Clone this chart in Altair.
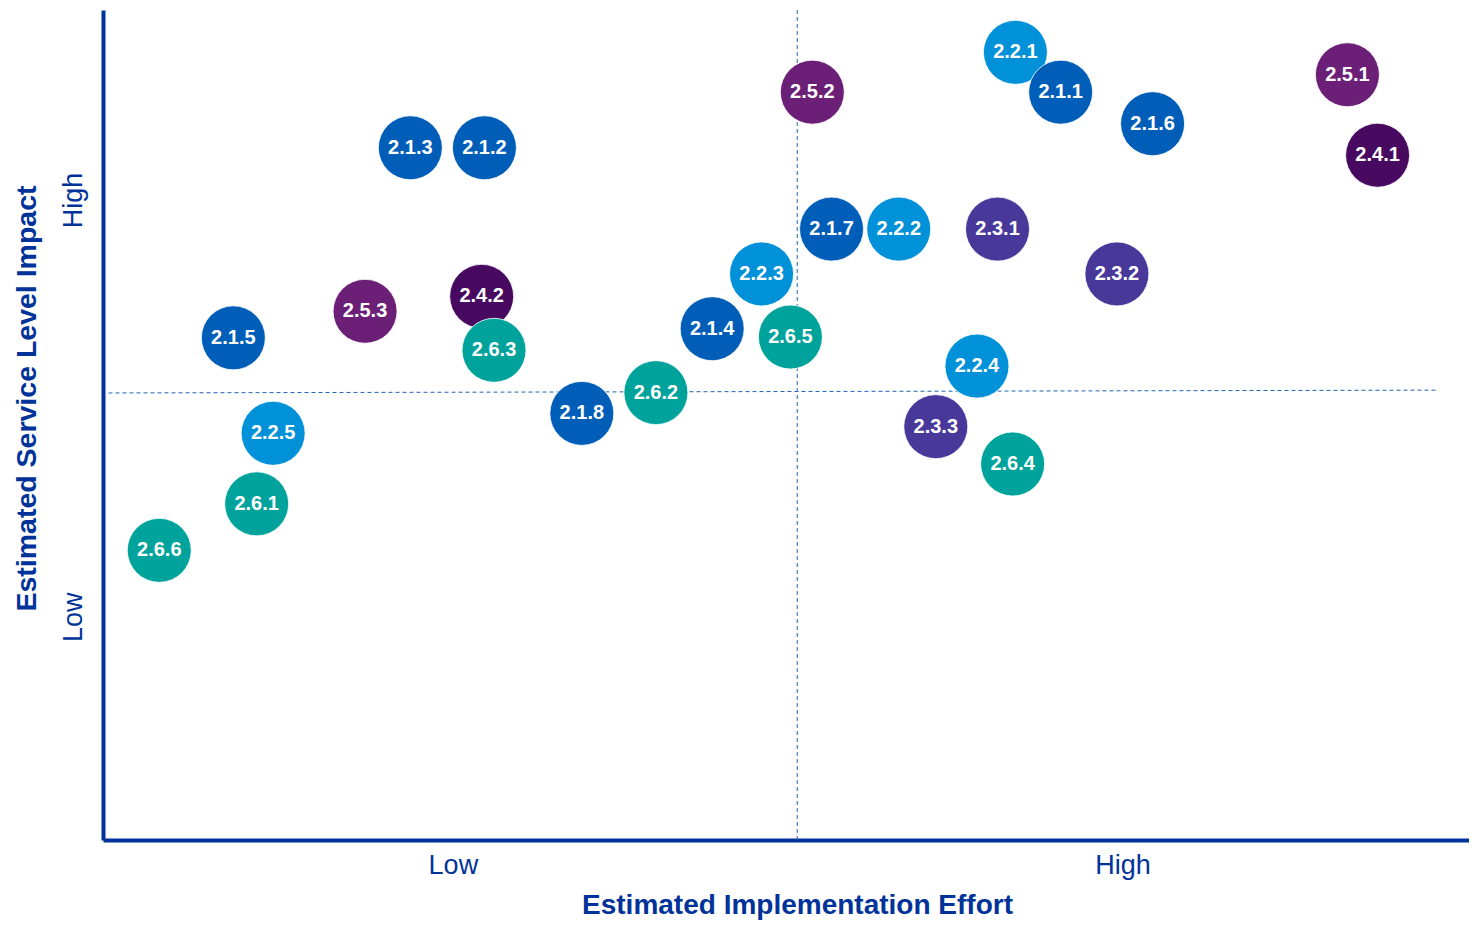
import altair as alt
import pandas as pd

# Initiative labels, effort (x) and impact (y) on a 0-10 scale
labels = ["2.2.1", "2.2.2", "2.2.3", "2.2.4", "2.2.5",
          "2.1.1", "2.1.2", "2.1.3", "2.1.4", "2.1.5", "2.1.6", "2.1.7", "2.1.8",
          "2.3.1", "2.3.2", "2.3.3",
          "2.4.1", "2.4.2",
          "2.5.1", "2.5.2", "2.5.3",
          "2.6.1", "2.6.2", "2.6.3", "2.6.4", "2.6.5", "2.6.6"]
effort = [6.65, 5.80, 4.80, 6.37, 1.24,
          6.98, 2.78, 2.24, 4.44, 0.95, 7.65, 5.31, 3.49,
          6.52, 7.39, 6.07,
          9.29, 2.76,
          9.07, 5.17, 1.91,
          1.12, 4.03, 2.85, 6.63, 5.01, 0.41]
impact = [9.49, 7.36, 6.82, 5.71, 4.90,
          9.01, 8.34, 8.34, 6.16, 6.05, 8.63, 7.36, 5.14,
          7.36, 6.82, 4.98,
          8.25, 6.55,
          9.22, 9.01, 6.37,
          4.05, 5.39, 5.90, 4.53, 6.06, 3.49]

groups = ["2.1", "2.2", "2.3", "2.4", "2.5", "2.6"]
group_colors = ["#005EB8", "#0091D8", "#47389A", "#470A60", "#6B1F77", "#00A39B"]

# Tick positions of the qualitative axis labels
x_ticks = [2.55, 7.43]
y_ticks = [2.69, 7.71]

# Quadrant divider positions
divider_x = 5.06
divider_y_left, divider_y_right = 5.386, 5.42
divider_x_start, divider_x_end = 0.04, 9.72

df = pd.DataFrame({"label": labels, "effort": effort, "impact": impact})
df["group"] = df["label"].str[:3]
df["order"] = range(len(df))

axis_color = "#003399"
font = "Liberation Sans"

PLOT_W = 1366
xscale = alt.Scale(domain=[0, 10 * PLOT_W / 1372], nice=False, zero=False)
yscale = alt.Scale(domain=[0, 10], nice=False, zero=False)

xaxis = alt.Axis(values=x_ticks, labelExpr="datum.value < 5 ? 'Low' : 'High'",
                 domainColor=axis_color, domainWidth=4, ticks=False, grid=False,
                 labelColor=axis_color, labelFont=font, labelFontSize=27,
                 labelPadding=12, title="Estimated Implementation Effort",
                 titleColor=axis_color, titleFont=font, titleFontSize=28,
                 titleFontWeight="bold", titleX=694, titleY=65,
                 titleAlign="center", titleBaseline="middle")
yaxis = alt.Axis(values=y_ticks, labelExpr="datum.value < 5 ? 'Low' : 'High'",
                 domainColor=axis_color, domainWidth=4, ticks=False, grid=False,
                 labelColor=axis_color, labelFont=font, labelFontSize=27,
                 labelAngle=-90, labelAlign="center", labelBaseline="bottom",
                 labelPadding=16, title="Estimated Service Level Impact",
                 titleColor=axis_color, titleFont=font, titleFontSize=28.5,
                 titleFontWeight="bold", titleX=-77, titleY=388,
                 titleAngle=270, titleAlign="center", titleBaseline="middle")

vline_df = pd.DataFrame({"x": [divider_x]})
hline_df = pd.DataFrame({"x": [divider_x_start], "x2": [divider_x_end],
                         "y": [divider_y_left], "y2": [divider_y_right]})

dash_color = "#1F64B4"
vline = alt.Chart(vline_df).mark_rule(color=dash_color, strokeWidth=1, strokeDash=[4, 3]).encode(
    x=alt.X("x:Q", scale=xscale, axis=xaxis),
    y=alt.value(0), y2=alt.value(830)
)
hline = alt.Chart(hline_df).mark_rule(color=dash_color, strokeWidth=1, strokeDash=[4, 3]).encode(
    x=alt.X("x:Q", scale=xscale),
    x2="x2:Q",
    y=alt.Y("y:Q", scale=yscale, axis=yaxis),
    y2="y2:Q"
)

circles = alt.Chart(df).mark_circle(size=4096, opacity=1, stroke="white", strokeWidth=0.8).encode(
    x=alt.X("effort:Q", scale=xscale),
    y=alt.Y("impact:Q", scale=yscale),
    color=alt.Color("group:N", scale=alt.Scale(domain=groups, range=group_colors), legend=None),
    order="order:Q"
)
texts = alt.Chart(df).mark_text(color="white", font=font, fontSize=20, fontWeight="bold",
                                align="center", baseline="middle").encode(
    x=alt.X("effort:Q", scale=xscale),
    y=alt.Y("impact:Q", scale=yscale),
    text="label:N"
)

chart = alt.layer(vline, hline, circles, texts).properties(
    width=PLOT_W, height=830,
    autosize=alt.AutoSizeParams(type="none"),
    padding={"left": 95, "top": 2, "right": 0, "bottom": 80},
    background="white"
).configure_view(stroke=None)

chart.save("out.html", embed_options={"renderer": "svg", "actions": False})
